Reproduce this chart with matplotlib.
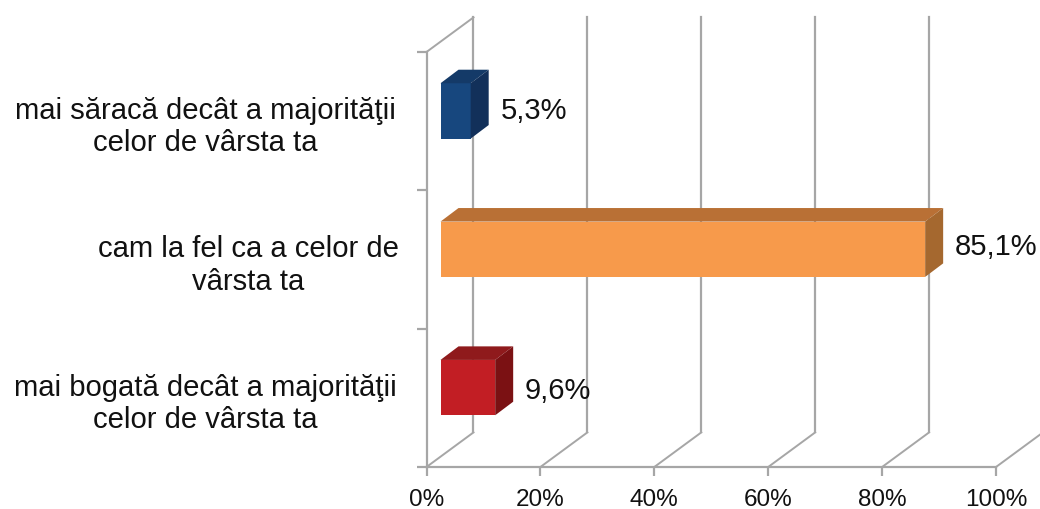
# Venit comparat cu cei de varsta ta - fake 3D bars

import matplotlib.pyplot as plt
from matplotlib.patches import Polygon

categories = ['mai bogată decât a majorităţii\ncelor de vârsta ta',
              'cam la fel ca a celor de\nvârsta ta',
              'mai săracă decât a majorităţii\ncelor de vârsta ta']
values = [9.6, 85.1, 5.3]
value_labels = ['9,6%', '85,1%', '5,3%']
front_colors = ['#c21e24', '#f79a4b', '#17477e']
top_colors = ['#8f1a1c', '#b97035', '#143a68']
side_colors = ['#7b1113', '#a5682f', '#12305a']
x_ticks = [0, 20, 40, 60, 80, 100]
x_tick_labels = ['0%', '20%', '40%', '60%', '80%', '100%']

W, H = 1040, 509
grid_color = '#a6a6a6'
text_color = '#111111'
# depth of the wall and of the bars, in data units
wall_dx, wall_dy = 8.25, 0.25
bar_dx, bar_dy = 3.16, 0.098
bar_start = 2.46
bar_h = 0.4
bar_shift = 0.074

plt.rcParams['font.family'] = ['Liberation Sans', 'DejaVu Sans']

fig = plt.figure(figsize=(W / 100, H / 100), dpi=100)
ax = fig.add_axes([426.5 / W, 1 - 467 / H, (996 - 426.5) / W, (467 - 52) / H])
ax.set_xlim(0, 100)
ax.set_ylim(0, 3)

for s in ['top', 'right']:
    ax.spines[s].set_visible(False)
for s in ['left', 'bottom']:
    ax.spines[s].set_color(grid_color)
    ax.spines[s].set_linewidth(1.6)

ax.set_xticks(x_ticks)
ax.set_xticklabels(x_tick_labels, fontsize=17.5, color=text_color)
ax.set_yticks([0, 1, 2, 3])
ax.set_yticklabels([])
ax.tick_params(axis='x', length=6.5, width=1.6, color=grid_color, pad=9)
ax.tick_params(axis='y', length=7.5, width=1.6, color=grid_color)

# back wall and floor lines
for t in x_ticks:
    ax.plot([t, t + wall_dx], [0, wall_dy], color=grid_color, lw=1.4, clip_on=False)
    if t < 100:
        ax.plot([t + wall_dx, t + wall_dx], [wall_dy, 3 + wall_dy],
                color=grid_color, lw=1.6, clip_on=False)
ax.plot([0, wall_dx], [3, 3 + wall_dy], color=grid_color, lw=1.4, clip_on=False)

value_nudge = [-0.025, 0.015, 0.003]
for i, v in enumerate(values):
    y0 = i + 0.5 - bar_h / 2 + bar_shift
    y1 = y0 + bar_h
    x0 = bar_start
    x1 = bar_start + v
    ax.add_patch(Polygon([(x0, y0), (x1, y0), (x1, y1), (x0, y1)],
                         fc=front_colors[i], ec='none', clip_on=False, zorder=4))
    ax.add_patch(Polygon([(x0, y1), (x1, y1), (x1 + bar_dx, y1 + bar_dy), (x0 + bar_dx, y1 + bar_dy)],
                         fc=top_colors[i], ec='none', clip_on=False, zorder=4))
    ax.add_patch(Polygon([(x1, y0), (x1 + bar_dx, y0 + bar_dy), (x1 + bar_dx, y1 + bar_dy), (x1, y1)],
                         fc=side_colors[i], ec='none', clip_on=False, zorder=4))
    ax.text(x1 + 5.2, i + 0.5 + bar_shift + value_nudge[i], value_labels[i], fontsize=21,
            color=text_color, ha='left', va='center', zorder=5, clip_on=False)
    ax.text(-38.9 if i != 1 else -31.3, i + 0.5 - 0.043, categories[i],
            fontsize=21.1, color=text_color, ha='center', va='center',
            linespacing=1.2, clip_on=False)

fig.savefig('out.png', dpi=100, facecolor='white')
